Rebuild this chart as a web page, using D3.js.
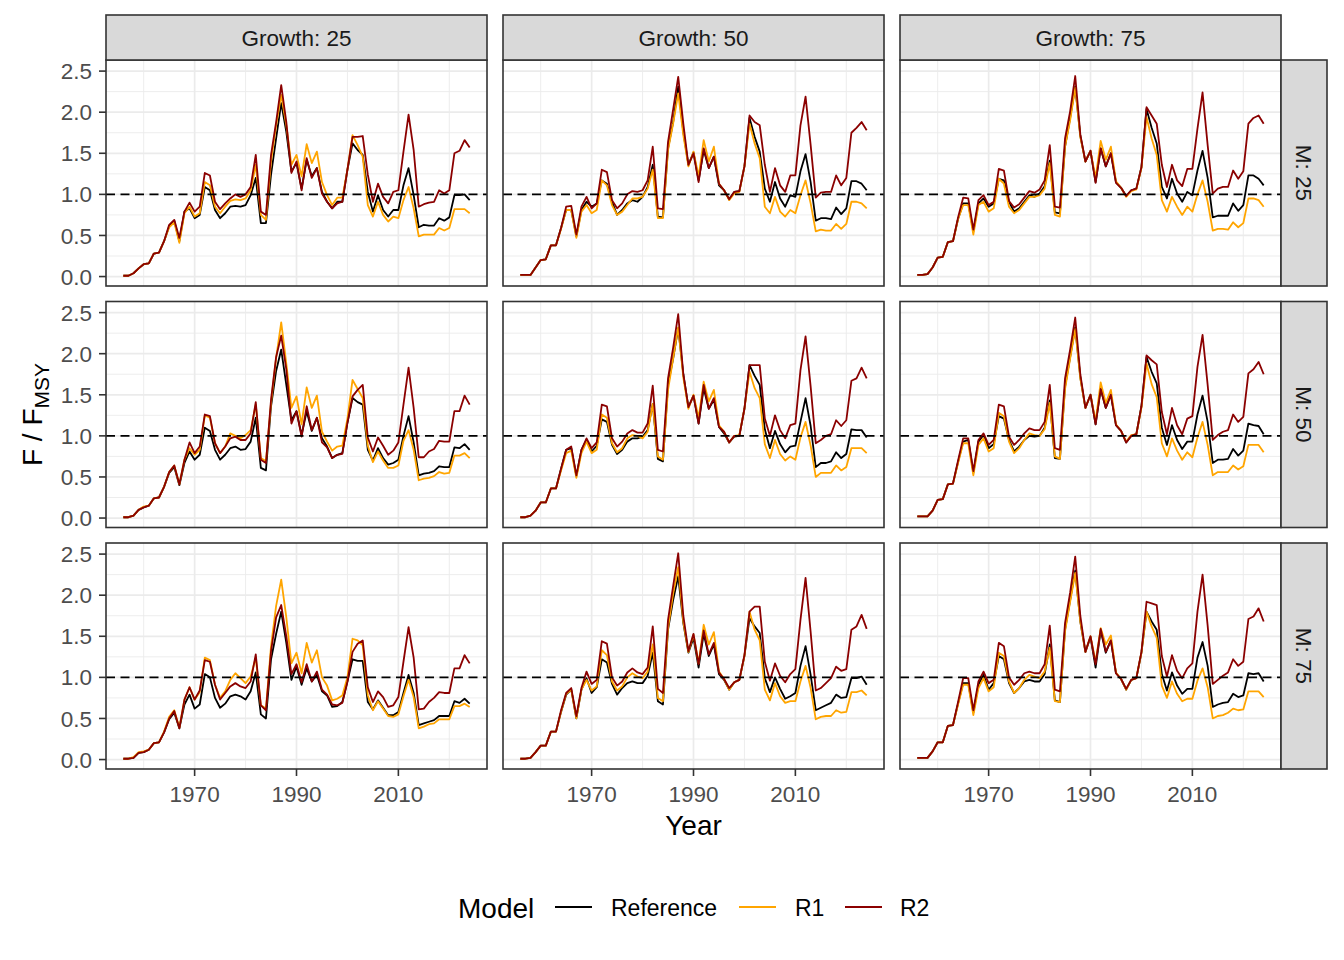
<!DOCTYPE html>
<html><head><meta charset="utf-8">
<script src="https://cdn.jsdelivr.net/npm/d3@7/dist/d3.min.js"></script>
<style>
body{margin:0;background:#fff;}
svg{display:block;font-family:"Liberation Sans",Arial,Helvetica,sans-serif;}
</style>
</head><body>
<svg id="chart" width="1344" height="960"></svg>
<script>
// ---------------- DATA ----------------
const years = [1956,1957,1958,1959,1960,1961,1962,1963,1964,1965,
1966,1967,1968,1969,1970,1971,1972,1973,1974,1975,
1976,1977,1978,1979,1980,1981,1982,1983,1984,1985,
1986,1987,1988,1989,1990,1991,1992,1993,1994,1995,
1996,1997,1998,1999,2000,2001,2002,2003,2004,2005,
2006,2007,2008,2009,2010,2011,2012,2013,2014,2015,
2016,2017,2018,2019,2020,2021,2022,2023,2024];

const growthLevels = ["25","50","75"];
const mLevels = ["25","50","75"];
const models = ["Reference","R1","R2"];
const modelColors = ["#000000","#FFA500","#8B0000"];
const yTicks = [0,0.5,1,1.5,2,2.5];
const yMinorTicks = [0.25,0.75,1.25,1.75,2.25];
const xTicks = [1970,1990,2010];
const xMinorTicks = [1960,1980,2000,2020];
const refLineValue = 1;

// Growth 25, M 25
const ref_G25_M25 = [0.01,0.01,0.04,0.10,0.15,0.16,0.28,0.29,0.43,0.61,
0.68,0.43,0.79,0.83,0.71,0.75,1.09,1.05,0.81,0.71,
0.77,0.85,0.86,0.85,0.87,0.99,1.20,0.65,0.65,1.24,
1.68,2.11,1.76,1.28,1.38,1.07,1.42,1.22,1.32,1.03,
0.91,0.83,0.91,0.91,1.30,1.62,1.54,1.48,1.03,0.79,
0.99,0.81,0.73,0.81,0.81,1.11,1.32,0.99,0.60,0.63,
0.62,0.62,0.71,0.68,0.72,0.99,0.99,1.00,0.93];
const r1_G25_M25 = [0.01,0.01,0.04,0.10,0.15,0.16,0.28,0.29,0.43,0.60,
0.66,0.41,0.77,0.85,0.73,0.77,1.15,1.11,0.85,0.77,
0.85,0.92,0.94,0.93,0.95,1.05,1.36,0.75,0.69,1.40,
1.84,2.21,1.84,1.36,1.48,1.22,1.61,1.38,1.52,1.15,
0.99,0.87,0.96,0.96,1.30,1.72,1.60,1.46,0.87,0.73,
0.91,0.75,0.67,0.73,0.71,0.93,1.09,0.83,0.49,0.51,
0.51,0.51,0.59,0.56,0.59,0.82,0.82,0.82,0.77];
const r2_G25_M25 = [0.01,0.01,0.04,0.10,0.15,0.16,0.28,0.29,0.43,0.63,
0.69,0.47,0.79,0.90,0.79,0.85,1.26,1.23,0.91,0.82,
0.89,0.95,1.00,0.97,1.00,1.09,1.48,0.79,0.75,1.48,
1.88,2.33,1.88,1.26,1.40,1.05,1.44,1.20,1.32,1.01,
0.91,0.83,0.89,0.91,1.30,1.70,1.70,1.71,1.24,0.91,
1.13,0.97,0.89,1.03,1.05,1.52,1.97,1.54,0.85,0.88,
0.90,0.91,1.05,1.01,1.05,1.50,1.53,1.66,1.57];

// Growth 50, M 25
const ref_G50_M25 = [0.02,0.02,0.02,0.11,0.20,0.21,0.38,0.38,0.59,0.81,
0.81,0.49,0.81,0.91,0.85,0.89,1.17,1.13,0.91,0.75,
0.81,0.89,0.93,0.91,0.97,1.09,1.36,0.73,0.72,1.56,
1.88,2.31,1.76,1.36,1.51,1.17,1.54,1.32,1.46,1.11,
1.05,0.94,1.03,1.04,1.34,1.93,1.70,1.52,1.07,0.91,
1.15,0.95,0.85,0.99,0.97,1.28,1.49,1.15,0.68,0.71,
0.71,0.70,0.84,0.76,0.83,1.16,1.16,1.13,1.05];
const r1_G50_M25 = [0.02,0.02,0.02,0.11,0.20,0.21,0.38,0.38,0.58,0.81,
0.81,0.47,0.79,0.87,0.77,0.81,1.17,1.11,0.87,0.75,
0.79,0.87,0.95,0.95,0.97,1.07,1.30,0.71,0.71,1.54,
1.86,2.23,1.72,1.34,1.52,1.22,1.66,1.40,1.58,1.13,
1.05,0.93,1.01,1.03,1.34,1.86,1.62,1.44,0.85,0.77,
0.97,0.79,0.73,0.81,0.77,0.99,1.17,0.89,0.55,0.57,
0.56,0.56,0.64,0.58,0.64,0.91,0.91,0.89,0.83];
const r2_G50_M25 = [0.02,0.02,0.02,0.11,0.20,0.21,0.38,0.38,0.59,0.85,
0.86,0.51,0.85,0.97,0.83,0.89,1.30,1.27,0.93,0.83,
0.89,1.00,1.04,1.03,1.05,1.17,1.58,0.83,0.82,1.64,
2.03,2.43,1.86,1.36,1.50,1.15,1.56,1.32,1.46,1.13,
1.05,0.94,1.03,1.04,1.34,1.96,1.88,1.84,1.36,1.03,
1.32,1.11,1.03,1.23,1.23,1.84,2.19,1.60,0.96,1.02,
1.03,1.03,1.23,1.11,1.20,1.75,1.81,1.88,1.78];

// Growth 75, M 25
const ref_G75_M25 = [0.02,0.02,0.03,0.11,0.23,0.24,0.42,0.43,0.70,0.89,
0.89,0.55,0.89,0.95,0.85,0.89,1.19,1.17,0.91,0.79,
0.83,0.91,0.99,0.97,1.01,1.10,1.41,0.78,0.77,1.58,
1.93,2.31,1.71,1.40,1.53,1.15,1.56,1.34,1.50,1.15,
1.08,0.98,1.05,1.07,1.33,2.04,1.81,1.62,1.09,0.95,
1.19,1.01,0.91,1.03,0.99,1.29,1.53,1.20,0.72,0.74,
0.74,0.74,0.89,0.80,0.87,1.23,1.23,1.19,1.11];
const r1_G75_M25 = [0.02,0.02,0.03,0.11,0.23,0.24,0.42,0.43,0.70,0.87,
0.87,0.51,0.87,0.91,0.79,0.83,1.19,1.13,0.85,0.77,
0.81,0.89,0.97,0.97,0.99,1.07,1.38,0.75,0.73,1.58,
1.90,2.30,1.70,1.40,1.53,1.20,1.65,1.42,1.58,1.16,
1.08,0.97,1.04,1.06,1.32,1.94,1.68,1.48,0.93,0.79,
0.97,0.85,0.75,0.85,0.79,1.00,1.17,0.91,0.56,0.58,
0.58,0.57,0.66,0.60,0.65,0.95,0.95,0.93,0.85];
const r2_G75_M25 = [0.02,0.02,0.03,0.11,0.23,0.24,0.42,0.43,0.72,0.96,
0.95,0.57,0.93,0.99,0.87,0.91,1.31,1.29,0.92,0.84,
0.88,0.96,1.04,1.02,1.06,1.17,1.60,0.85,0.84,1.68,
2.01,2.44,1.73,1.40,1.53,1.14,1.56,1.34,1.50,1.14,
1.08,0.98,1.05,1.07,1.33,2.06,1.96,1.86,1.36,1.09,
1.36,1.17,1.10,1.31,1.31,1.80,2.24,1.60,1.01,1.07,
1.09,1.09,1.29,1.19,1.28,1.86,1.93,1.96,1.86];

// Growth 25, M 50
const ref_G25_M50 = [0.01,0.01,0.03,0.10,0.13,0.15,0.24,0.25,0.38,0.55,
0.62,0.40,0.67,0.81,0.71,0.77,1.10,1.06,0.83,0.71,
0.77,0.85,0.87,0.83,0.84,0.93,1.22,0.61,0.58,1.36,
1.79,2.05,1.62,1.19,1.30,1.01,1.30,1.06,1.22,0.97,
0.87,0.73,0.77,0.79,1.16,1.46,1.41,1.38,0.83,0.70,
0.85,0.73,0.65,0.67,0.71,1.00,1.24,0.92,0.52,0.54,
0.55,0.57,0.63,0.62,0.62,0.86,0.85,0.90,0.83];
const r1_G25_M50 = [0.01,0.01,0.03,0.10,0.14,0.15,0.24,0.25,0.38,0.56,
0.64,0.41,0.71,0.85,0.77,0.83,1.25,1.22,0.91,0.79,
0.87,1.03,1.00,0.97,1.01,1.07,1.38,0.73,0.69,1.40,
1.95,2.38,1.88,1.34,1.48,1.14,1.59,1.34,1.49,1.05,
0.93,0.82,0.87,0.88,1.21,1.68,1.57,1.46,0.88,0.68,
0.81,0.70,0.61,0.61,0.64,0.94,1.07,0.83,0.46,0.48,
0.49,0.51,0.56,0.54,0.55,0.76,0.76,0.79,0.73];
const r2_G25_M50 = [0.01,0.01,0.03,0.10,0.13,0.15,0.24,0.25,0.38,0.56,
0.64,0.41,0.71,0.92,0.79,0.87,1.26,1.24,0.91,0.79,
0.87,0.97,0.99,0.95,0.95,1.03,1.41,0.71,0.67,1.44,
1.96,2.22,1.81,1.15,1.30,0.99,1.36,1.07,1.22,0.92,
0.86,0.73,0.77,0.78,1.16,1.48,1.56,1.62,0.98,0.81,
0.98,0.88,0.77,0.82,0.92,1.38,1.83,1.34,0.74,0.74,
0.81,0.84,0.94,0.93,0.93,1.30,1.30,1.49,1.38];

// Growth 50, M 50
const ref_G50_M50 = [0.01,0.01,0.03,0.09,0.19,0.19,0.36,0.36,0.60,0.83,
0.85,0.51,0.83,0.95,0.81,0.88,1.20,1.17,0.89,0.78,
0.83,0.93,0.97,0.97,0.99,1.07,1.39,0.72,0.69,1.62,
1.94,2.31,1.75,1.35,1.49,1.15,1.58,1.33,1.44,1.11,
1.03,0.92,0.99,1.00,1.33,1.86,1.73,1.62,1.08,0.85,
1.06,0.90,0.80,0.87,0.88,1.17,1.46,1.12,0.62,0.67,
0.67,0.69,0.80,0.73,0.78,1.08,1.07,1.07,0.98];
const r1_G50_M50 = [0.01,0.01,0.03,0.09,0.19,0.19,0.36,0.36,0.58,0.79,
0.82,0.49,0.79,0.93,0.79,0.83,1.26,1.22,0.91,0.80,
0.85,0.97,1.01,1.00,0.97,1.05,1.39,0.75,0.71,1.56,
1.94,2.32,1.71,1.33,1.50,1.22,1.66,1.42,1.56,1.13,
1.05,0.92,1.00,1.01,1.33,1.78,1.58,1.46,0.90,0.73,
0.95,0.78,0.70,0.75,0.71,0.98,1.17,0.88,0.50,0.55,
0.55,0.55,0.64,0.58,0.62,0.85,0.85,0.85,0.79];
const r2_G50_M50 = [0.01,0.01,0.03,0.09,0.19,0.19,0.36,0.36,0.60,0.83,
0.87,0.52,0.83,0.97,0.85,0.92,1.38,1.36,0.97,0.87,
0.93,1.03,1.07,1.04,1.04,1.15,1.61,0.83,0.81,1.70,
2.07,2.48,1.75,1.35,1.49,1.15,1.62,1.33,1.46,1.11,
1.05,0.92,1.00,1.00,1.33,1.86,1.86,1.86,1.21,1.00,
1.25,1.07,0.97,1.13,1.15,1.80,2.21,1.60,0.91,0.95,
1.00,1.02,1.19,1.12,1.19,1.67,1.70,1.83,1.70];

// Growth 75, M 50
const ref_G75_M50 = [0.02,0.02,0.02,0.09,0.22,0.23,0.41,0.42,0.68,0.93,
0.95,0.55,0.93,1.01,0.85,0.90,1.24,1.21,0.95,0.81,
0.87,0.95,1.00,0.99,1.00,1.10,1.43,0.73,0.72,1.60,
1.96,2.32,1.71,1.34,1.50,1.14,1.57,1.34,1.50,1.13,
1.06,0.92,1.00,1.02,1.36,1.96,1.78,1.64,1.10,0.89,
1.13,0.95,0.84,0.93,0.93,1.26,1.49,1.17,0.67,0.71,
0.71,0.72,0.84,0.76,0.82,1.15,1.13,1.12,1.02];
const r1_G75_M50 = [0.02,0.02,0.02,0.09,0.22,0.23,0.41,0.42,0.67,0.91,
0.91,0.52,0.89,0.97,0.81,0.85,1.28,1.24,0.93,0.79,
0.85,0.95,1.03,1.01,1.00,1.08,1.40,0.75,0.72,1.57,
1.94,2.30,1.70,1.34,1.50,1.18,1.65,1.40,1.56,1.14,
1.06,0.93,1.01,1.02,1.34,1.88,1.63,1.47,0.91,0.75,
0.97,0.82,0.71,0.80,0.74,0.98,1.17,0.89,0.52,0.56,
0.56,0.56,0.64,0.59,0.63,0.89,0.89,0.89,0.80];
const r2_G75_M50 = [0.02,0.02,0.02,0.09,0.22,0.23,0.41,0.42,0.70,0.97,
0.97,0.57,0.95,1.03,0.89,0.95,1.38,1.36,0.99,0.89,
0.95,1.03,1.09,1.07,1.07,1.17,1.62,0.85,0.83,1.70,
2.05,2.44,1.75,1.34,1.50,1.14,1.57,1.34,1.50,1.13,
1.06,0.92,1.00,1.02,1.36,1.98,1.92,1.87,1.29,1.02,
1.34,1.13,1.02,1.21,1.24,1.84,2.23,1.62,0.95,1.01,
1.05,1.07,1.26,1.17,1.23,1.76,1.81,1.90,1.75];

// Growth 25, M 75
const ref_G25_M75 = [0.01,0.01,0.02,0.08,0.09,0.12,0.20,0.21,0.33,0.49,
0.57,0.38,0.67,0.79,0.62,0.67,1.04,1.00,0.75,0.63,
0.68,0.77,0.79,0.77,0.73,0.83,1.06,0.55,0.50,1.22,
1.53,1.80,1.42,0.97,1.13,0.91,1.11,0.95,1.03,0.83,
0.78,0.64,0.65,0.70,0.95,1.22,1.20,1.20,0.70,0.61,
0.72,0.63,0.54,0.54,0.58,0.81,1.03,0.81,0.42,0.44,
0.46,0.48,0.53,0.53,0.53,0.71,0.69,0.74,0.68];
const r1_G25_M75 = [0.01,0.01,0.03,0.09,0.10,0.12,0.20,0.21,0.34,0.52,
0.60,0.39,0.73,0.88,0.73,0.82,1.24,1.21,0.91,0.75,
0.83,0.97,1.05,0.99,0.93,1.01,1.24,0.66,0.62,1.38,
1.87,2.19,1.73,1.17,1.30,1.05,1.42,1.18,1.33,1.00,
0.90,0.72,0.74,0.78,1.00,1.47,1.45,1.39,0.78,0.60,
0.71,0.62,0.53,0.52,0.55,0.77,0.97,0.76,0.38,0.40,
0.43,0.44,0.49,0.49,0.49,0.65,0.65,0.68,0.64];
const r2_G25_M75 = [0.01,0.01,0.02,0.08,0.09,0.12,0.20,0.21,0.33,0.50,
0.59,0.38,0.73,0.88,0.73,0.84,1.21,1.19,0.91,0.73,
0.81,0.89,0.93,0.89,0.87,0.95,1.28,0.66,0.60,1.32,
1.73,1.88,1.50,1.04,1.16,0.94,1.16,0.95,1.07,0.85,
0.79,0.67,0.66,0.69,0.95,1.31,1.41,1.45,0.88,0.70,
0.83,0.76,0.64,0.66,0.76,1.19,1.61,1.24,0.61,0.62,
0.70,0.75,0.82,0.81,0.81,1.11,1.11,1.27,1.17];

// Growth 50, M 75
const ref_G50_M75 = [0.01,0.01,0.02,0.09,0.17,0.17,0.34,0.34,0.58,0.79,
0.85,0.50,0.85,0.99,0.81,0.88,1.22,1.18,0.92,0.79,
0.87,0.93,0.95,0.93,0.93,1.02,1.30,0.71,0.67,1.58,
1.94,2.23,1.66,1.30,1.48,1.12,1.53,1.26,1.40,1.04,
0.97,0.85,0.94,0.97,1.26,1.72,1.62,1.54,0.99,0.82,
1.00,0.86,0.74,0.77,0.81,1.14,1.38,1.03,0.60,0.63,
0.66,0.69,0.79,0.75,0.76,0.99,0.99,1.01,0.91];
const r1_G50_M75 = [0.01,0.01,0.02,0.09,0.17,0.17,0.34,0.34,0.58,0.80,
0.85,0.50,0.85,0.97,0.84,0.89,1.33,1.27,0.95,0.84,
0.89,1.00,1.05,1.01,0.99,1.07,1.40,0.75,0.71,1.60,
2.02,2.34,1.68,1.31,1.52,1.17,1.64,1.40,1.55,1.07,
0.98,0.85,0.94,0.97,1.26,1.80,1.58,1.45,0.85,0.72,
0.93,0.77,0.69,0.71,0.71,0.95,1.14,0.87,0.49,0.52,
0.53,0.53,0.60,0.57,0.58,0.82,0.82,0.84,0.78];
const r2_G50_M75 = [0.01,0.01,0.02,0.09,0.17,0.17,0.34,0.34,0.60,0.81,
0.87,0.53,0.87,1.07,0.92,0.97,1.44,1.41,1.00,0.90,
0.95,1.06,1.11,1.06,1.04,1.12,1.62,0.86,0.81,1.70,
2.11,2.51,1.75,1.32,1.53,1.16,1.57,1.28,1.42,1.06,
0.98,0.87,0.94,0.97,1.27,1.80,1.86,1.86,1.19,0.96,
1.17,1.02,0.94,1.04,1.10,1.70,2.21,1.55,0.84,0.87,
0.93,0.99,1.13,1.08,1.10,1.58,1.62,1.76,1.59];

// Growth 75, M 75
const ref_G75_M75 = [0.02,0.02,0.02,0.10,0.21,0.21,0.41,0.42,0.68,0.93,
0.93,0.57,0.91,1.03,0.85,0.93,1.26,1.22,0.93,0.81,
0.87,0.95,0.97,0.95,0.95,1.04,1.40,0.72,0.70,1.58,
1.94,2.30,1.68,1.31,1.49,1.12,1.57,1.30,1.45,1.05,
0.98,0.85,0.97,0.99,1.30,1.80,1.68,1.58,1.04,0.84,
1.06,0.90,0.80,0.86,0.86,1.24,1.43,1.14,0.64,0.67,
0.69,0.70,0.80,0.76,0.78,1.05,1.04,1.05,0.95];
const r1_G75_M75 = [0.02,0.02,0.02,0.10,0.21,0.21,0.41,0.42,0.67,0.91,
0.91,0.54,0.87,0.99,0.83,0.88,1.30,1.26,0.95,0.81,
0.87,0.97,1.03,1.01,0.99,1.07,1.36,0.71,0.70,1.56,
1.92,2.27,1.68,1.31,1.50,1.19,1.60,1.40,1.51,1.06,
0.98,0.85,0.97,0.99,1.30,1.80,1.62,1.48,0.90,0.75,
0.95,0.80,0.71,0.74,0.74,0.96,1.11,0.88,0.50,0.53,
0.54,0.57,0.62,0.60,0.61,0.83,0.83,0.83,0.76];
const r2_G75_M75 = [0.02,0.02,0.02,0.10,0.21,0.21,0.41,0.42,0.70,0.99,
0.99,0.60,0.95,1.07,0.93,0.97,1.42,1.38,1.00,0.91,
0.97,1.05,1.07,1.05,1.05,1.16,1.63,0.85,0.83,1.66,
2.03,2.47,1.75,1.31,1.50,1.16,1.59,1.31,1.45,1.05,
0.98,0.86,0.97,0.99,1.31,1.92,1.90,1.88,1.26,1.01,
1.27,1.08,0.99,1.11,1.17,1.80,2.25,1.63,0.92,0.97,
1.02,1.06,1.22,1.14,1.19,1.71,1.74,1.84,1.68];

// ---------------- BUILD ----------------
const seriesTable = {
  "25|25":[ref_G25_M25,r1_G25_M25,r2_G25_M25],
  "50|25":[ref_G50_M25,r1_G50_M25,r2_G50_M25],
  "75|25":[ref_G75_M25,r1_G75_M25,r2_G75_M25],
  "25|50":[ref_G25_M50,r1_G25_M50,r2_G25_M50],
  "50|50":[ref_G50_M50,r1_G50_M50,r2_G50_M50],
  "75|50":[ref_G75_M50,r1_G75_M50,r2_G75_M50],
  "25|75":[ref_G25_M75,r1_G25_M75,r2_G25_M75],
  "50|75":[ref_G50_M75,r1_G50_M75,r2_G50_M75],
  "75|75":[ref_G75_M75,r1_G75_M75,r2_G75_M75]
};

const L = {left:106, top:60, pw:381, ph:226, gapX:16, gapY:15.5, stripH:45, stripW:46};
const FONT_AX = 22.5, FONT_STRIP = 22.5, FONT_TITLE = 28, FONT_LEG = 23;

const allVals = Object.values(seriesTable).flat(2);
const yExt = d3.extent(allVals.concat([refLineValue]));
const yR = yExt[1]-yExt[0];
const y = d3.scaleLinear().domain([yExt[0]-0.05*yR, yExt[1]+0.05*yR]).range([L.ph,0]);
const xExt = d3.extent(years);
const xR = xExt[1]-xExt[0];
const x = d3.scaleLinear().domain([xExt[0]-0.05*xR, xExt[1]+0.05*xR]).range([0,L.pw]);

const svg = d3.select("#chart");
svg.append("rect").attr("width",1344).attr("height",960).attr("fill","#fff");

const line = d3.line().x((d,i)=>x(years[i])).y(d=>y(d));

growthLevels.forEach((g,ci)=>{
  mLevels.forEach((m,ri)=>{
    const px = L.left + ci*(L.pw+L.gapX);
    const py = L.top + ri*(L.ph+L.gapY);
    const p = svg.append("g").attr("transform",`translate(${px},${py})`);
    p.append("rect").attr("width",L.pw).attr("height",L.ph).attr("fill","#fff");
    // minor grid
    p.selectAll(".ymin").data(yMinorTicks).join("line")
      .attr("x1",0).attr("x2",L.pw).attr("y1",d=>y(d)).attr("y2",d=>y(d))
      .attr("stroke","#EBEBEB").attr("stroke-width",0.9);
    p.selectAll(".xmin").data(xMinorTicks).join("line")
      .attr("y1",0).attr("y2",L.ph).attr("x1",d=>x(d)).attr("x2",d=>x(d))
      .attr("stroke","#EBEBEB").attr("stroke-width",0.9);
    // major grid
    p.selectAll(".ymaj").data(yTicks).join("line")
      .attr("x1",0).attr("x2",L.pw).attr("y1",d=>y(d)).attr("y2",d=>y(d))
      .attr("stroke","#EBEBEB").attr("stroke-width",1.7);
    p.selectAll(".xmaj").data(xTicks).join("line")
      .attr("y1",0).attr("y2",L.ph).attr("x1",d=>x(d)).attr("x2",d=>x(d))
      .attr("stroke","#EBEBEB").attr("stroke-width",1.7);
    // series
    const ser = seriesTable[g+"|"+m];
    ser.forEach((vals,si)=>{
      p.append("path").datum(vals).attr("d",line)
        .attr("fill","none").attr("stroke",modelColors[si])
        .attr("stroke-width",1.8).attr("stroke-linejoin","round");
    });
    // reference line
    p.append("line").attr("x1",0).attr("x2",L.pw)
      .attr("y1",y(refLineValue)).attr("y2",y(refLineValue))
      .attr("stroke","#000").attr("stroke-width",1.7).attr("stroke-dasharray","9,5.5");
    // border
    p.append("rect").attr("width",L.pw).attr("height",L.ph).attr("fill","none")
      .attr("stroke","#333333").attr("stroke-width",1.6);

    // y axis on first column
    if(ci===0){
      p.selectAll(".yt").data(yTicks).join("line")
        .attr("x1",-7).attr("x2",0).attr("y1",d=>y(d)).attr("y2",d=>y(d))
        .attr("stroke","#333333").attr("stroke-width",1.6);
      p.selectAll(".yl").data(yTicks).join("text")
        .attr("x",-14).attr("y",d=>y(d)).attr("dy","0.36em")
        .attr("text-anchor","end").attr("font-size",FONT_AX).attr("fill","#4D4D4D")
        .text(d=>d3.format(".1f")(d));
    }
    // x axis on bottom row
    if(ri===mLevels.length-1){
      p.selectAll(".xt").data(xTicks).join("line")
        .attr("y1",L.ph).attr("y2",L.ph+7).attr("x1",d=>x(d)).attr("x2",d=>x(d))
        .attr("stroke","#333333").attr("stroke-width",1.6);
      p.selectAll(".xl").data(xTicks).join("text")
        .attr("x",d=>x(d)).attr("y",L.ph+32.5)
        .attr("text-anchor","middle").attr("font-size",FONT_AX).attr("fill","#4D4D4D")
        .text(d=>d);
    }
    // top strip
    if(ri===0){
      const s = svg.append("g").attr("transform",`translate(${px},${py-L.stripH})`);
      s.append("rect").attr("width",L.pw).attr("height",L.stripH)
        .attr("fill","#D9D9D9").attr("stroke","#333333").attr("stroke-width",1.6);
      s.append("text").attr("x",L.pw/2).attr("y",L.stripH/2).attr("dy","0.36em")
        .attr("text-anchor","middle").attr("font-size",FONT_STRIP).attr("fill","#1A1A1A")
        .text("Growth: "+g);
    }
    // right strip
    if(ci===growthLevels.length-1){
      const s = svg.append("g").attr("transform",`translate(${px+L.pw},${py})`);
      s.append("rect").attr("width",L.stripW).attr("height",L.ph)
        .attr("fill","#D9D9D9").attr("stroke","#333333").attr("stroke-width",1.6);
      s.append("text").attr("transform",`translate(${L.stripW/2},${L.ph/2}) rotate(90)`)
        .attr("dy","0.36em").attr("text-anchor","middle")
        .attr("font-size",FONT_STRIP).attr("fill","#1A1A1A")
        .text("M: "+m);
    }
  });
});

// axis titles
const totalW = growthLevels.length*L.pw + (growthLevels.length-1)*L.gapX;
const totalH = mLevels.length*L.ph + (mLevels.length-1)*L.gapY;
svg.append("text").attr("x",L.left+totalW/2).attr("y",835)
  .attr("text-anchor","middle").attr("font-size",FONT_TITLE).attr("fill","#000").text("Year");

const yt = svg.append("text")
  .attr("transform",`translate(42,${L.top+totalH/2}) rotate(-90)`)
  .attr("text-anchor","middle").attr("font-size",FONT_TITLE).attr("fill","#000");
yt.append("tspan").text("F / F");
yt.append("tspan").attr("font-size",21).attr("dy",7).text("MSY");

// legend
const leg = svg.append("g").attr("transform","translate(0,908)");
leg.append("text").attr("x",458).attr("y",0).attr("dy","0.36em")
  .attr("font-size",FONT_TITLE).attr("fill","#000").text("Model");
const legX = [[555,611],[739,795],[845,900]];
models.forEach((mname,i)=>{
  leg.append("line").attr("x1",legX[i][0]).attr("x2",legX[i][0]+37)
    .attr("y1",-1).attr("y2",-1).attr("stroke",modelColors[i]).attr("stroke-width",2.2);
  leg.append("text").attr("x",legX[i][1]).attr("y",0).attr("dy","0.36em")
    .attr("font-size",FONT_LEG).attr("fill","#000").text(mname);
});
</script>
</body></html>
